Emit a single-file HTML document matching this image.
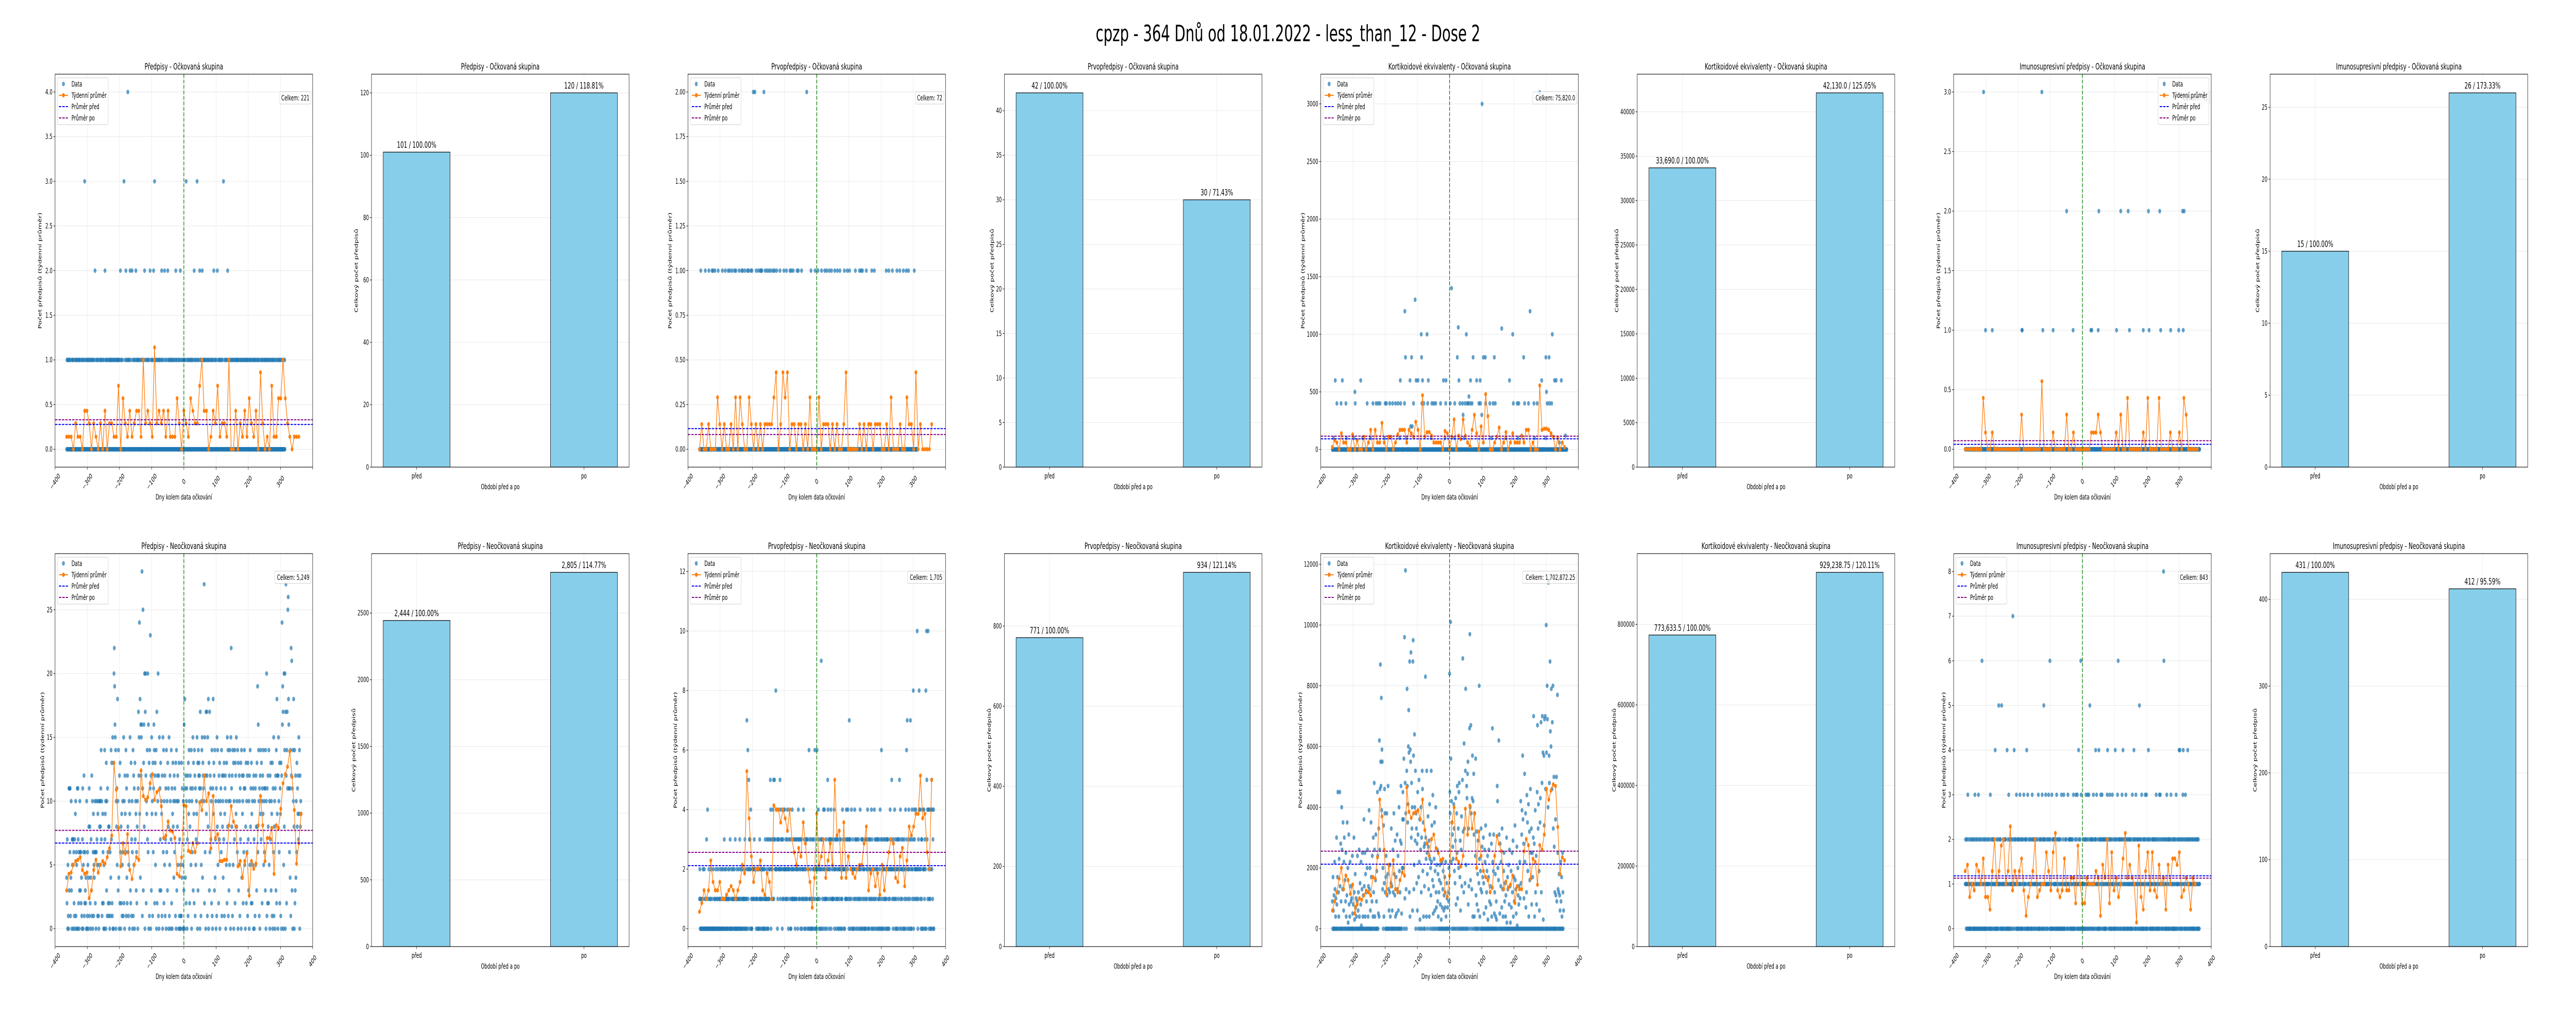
<!DOCTYPE html>
<html><head><meta charset="utf-8">
<style>html,body{margin:0;padding:0;background:#fff;overflow:hidden;width:100%;height:100%}svg{display:block;width:100vw;height:100vh}text{font-family:"DejaVu Sans","Liberation Sans",sans-serif;fill:#000}</style>
</head><body>
<svg id="fig" xmlns="http://www.w3.org/2000/svg" viewBox="0 0 8000 2000" preserveAspectRatio="none">
<rect width="8000" height="2000" fill="#fff"/>
<text x="4000" y="80" font-size="44" text-anchor="middle">cpzp - 364 Dnů od 18.01.2022 - less_than_12 - Dose 2</text>
</svg>
<script>
// ---------- DATA ----------
// bar totals [před, po]
const p2Vals=[101,120];
const p4Vals=[42,30];
const p6Vals=[33690.0,42130.0];
const p8Vals=[15,26];
const b2Vals=[2444,2805];
const b4Vals=[771,934];
const b6Vals=[773633.5,929238.75];
const b8Vals=[431,412];
const barCats=['před','po'];

// weekly averages (first week at day -364, one per 7 days)
const p1Weekly=[.14,.14,.14,0,.29,.14,.14,0,.43,.43,.29,0,.29,.14,0,.29,0,.43,0,.29,.29,.14,.14,.71,0,.57,.29,.14,.43,.14,.29,.43,.43,.14,1,.29,.43,.29,.14,1.14,.29,.43,.29,.43,.14,.43,.14,.14,.14,.57,.29,0,.43,.29,.14,.57,.43,.29,.29,.71,1,.43,.43,0,.14,.43,.29,.71,.14,.29,.29,.14,1,0,0,.43,0,.29,.14,.43,.14,.57,.29,.14,.43,0,.86,.29,0,.14,0,.71,.14,.14,.57,.57,1,.57,.29,.14,0,.14,.14,.14];
const p3Weekly=[0,.14,0,0,.14,0,0,0,.29,.14,0,.14,0,0,.14,0,.29,0,.29,.14,0,0,.29,.14,0,.14,0,.14,0,.14,.14,.14,.14,.29,.43,0,.14,.43,.29,.43,0,.14,.14,0,.14,.14,0,.14,0,.29,0,0,0,.29,0,.14,.14,.14,0,.14,0,.14,0,0,.14,.43,0,0,0,0,0,.14,0,.14,0,.14,.14,0,.14,.14,.14,0,0,.14,0,.29,0,0,0,.14,0,0,.29,.14,.14,0,.43,0,.14,0,0,0,0,.14];
const p5Weekly=[20,80,60,0,140,60,60,0,0,130,0,80,0,0,110,0,60,170,0,170,60,60,230,60,0,110,110,0,60,130,170,170,170,60,170,140,110,240,170,0,470,110,150,150,120,60,60,60,60,0,160,140,0,110,260,0,120,90,260,120,60,30,170,300,140,0,200,60,480,290,0,0,60,110,190,0,60,150,0,60,140,60,60,60,120,60,170,170,0,60,0,0,555,170,180,180,170,140,110,0,100,0,60,20];
const p7Weekly=[0,0,0,0,0,0,0,0,.43,.14,0,0,.14,0,0,0,0,0,0,0,0,0,0,0,0,.29,0,0,0,0,0,0,0,0,.57,0,0,0,0,.14,0,0,0,0,0,.29,0,0,.14,0,0,0,0,0,0,0,.14,.14,.14,.29,.14,0,0,0,0,0,0,.14,0,.29,0,0,.43,0,0,0,0,0,0,.14,0,.43,0,0,0,0,.43,0,0,0,0,.14,0,0,0,.14,0,.43,.29,0,0,0,0,0];
const b1Weekly=[3.0,4.3,4.4,5.0,5.3,5.4,5.6,4.6,4.3,4.4,2.4,3.0,4.6,5.4,4.4,5.0,5.3,5.1,5.6,6.3,7.3,13.0,10.9,7.9,4.9,6.7,5.9,7.4,4.6,3.9,5.0,5.6,5.4,12.4,10.4,10.1,10.3,11.4,12.1,10.1,10.7,10.9,9.6,7.1,7.3,8.4,7.7,7.6,7.1,4.3,4.1,5.6,9.7,9.6,6.1,6.0,6.7,6.0,6.7,9.9,9.3,12.0,10.0,10.6,6.3,10.4,7.1,7.4,5.3,5.3,5.4,5.4,8.1,9.6,8.4,8.0,4.9,5.3,4.0,5.3,5.9,2.6,5.3,4.7,5.1,8.1,10.4,8.1,5.3,7.1,7.1,7.9,4.3,8.1,7.9,9.4,11.4,12.1,12.7,13.9,11.9,9.3,5.1,6.7,9.0];
const b3Weekly=[.57,.86,1.29,1.0,1.29,2.29,1.57,1.29,1.29,1.57,1.0,1.0,1.14,1.29,1.43,1.29,1.0,1.29,1.57,2.14,1.86,5.29,3.71,2.43,1.57,2.0,2.0,2.29,1.29,1.14,1.86,1.57,1.0,4.14,4.0,4.0,3.57,4.0,3.71,3.29,4.0,3.0,2.57,2.14,2.71,2.43,3.57,2.86,2.0,1.57,.71,1.71,3.86,2.14,2.43,3.0,1.71,2.29,2.86,2.14,5.0,3.14,3.29,1.71,3.57,1.71,2.43,2.0,1.86,1.71,2.0,2.14,2.14,2.86,3.43,1.29,1.86,2.0,1.43,1.86,1.14,2.14,1.29,2.0,2.57,3.0,2.86,1.71,1.57,2.43,2.71,1.43,2.29,3.43,3.14,3.43,3.86,3.86,5.14,3.71,3.86,2.57,2.0,5.0];
const b5Weekly=[600,900,1200,1650,2000,1300,1750,1600,1150,1450,500,800,1000,950,1100,1250,1200,1100,1700,1650,2350,4250,3700,2600,1150,2100,1400,2250,1300,1200,1600,1850,1750,4650,3850,3650,3800,3850,3900,3600,4250,3250,2800,2400,2950,3100,2650,2500,2250,2300,1200,1050,1750,3500,4000,2300,2200,2050,2400,3950,3100,4050,3300,3800,2000,3200,2400,1900,1700,1600,1200,1350,2400,3050,2800,2550,1300,1550,1350,1450,1750,850,1400,1300,1300,2550,2950,2750,1650,2300,2200,1450,2750,2600,3100,4600,4250,4550,4750,4700,3350,1800,2350,2250];
const b7Weekly=[1.29,1.43,.71,1.0,.86,1.43,1.29,1.0,1.57,.71,.71,.43,1.29,2.0,1.0,1.29,1.86,2.0,1.0,1.29,2.29,.86,1.29,1.0,1.29,1.57,.86,.29,.71,1.0,1.29,2.0,.71,.86,1.0,1.0,1.71,1.29,.86,1.71,2.14,.86,.71,.86,1.57,.86,.86,1.14,1.14,.57,1.86,1.0,.57,.57,1.14,1.0,1.0,1.0,1.29,1.14,.29,1.43,1.14,2.0,.57,1.71,.86,1.14,.71,1.0,1.57,2.14,1.14,1.43,1.14,1.0,.14,1.86,.71,.43,1.29,1.71,.86,1.71,.86,.71,1.43,1.0,1.14,.43,1.43,1.0,1.57,1.57,1.43,1.71,.71,.86,1.14,1.0,.43,1.14,1.0];

// daily counts, one base-36 character per day starting at day -364
const p1Daily="0101001001010000100101000010010010100010100100001010010030100100010100100"+
"0100101000100102000100100100001001010000100100200101001000100100101001000"+
"1010010001001100100102001001000030010020100140100102001002000101000102010"+
"0100100100001000100101020001001000100100200010100102003001000100100010100"+
"0102010001002001000100200101001000101000100010021001000010010200100010010"+
"0100103000100101000010100100010200100100301001002001010020100100101000100"+
"1001001000100100100201001000102000100101000100100300010010010020100100010"+
"0100100100100100100101001000100100100100100010100101000100100100100010010"+
"1001000100100100001001001000100100101000100100100100010010010010000100100"+
"0100100100010000010010";
const p3Daily="0000100000000000001000000000010000000001001000001000000000100000000000010"+
"0000000100000000100001000000100000001000100000000010000000100100000010000"+
"0001001000000100010002000020001000000100000101001000002000100000100000100"+
"0001000000100010000001000000000100000000000100000001000000000010001000001"+
"0000000000010001000000000100000000000000020000000000001000000000000100000"+
"0001000000000010000000001000001000000010000001000000000100000001000000010"+
"0000000000001000000001000000100000000000000000100000000000010000100010000"+
"0000000100000000000000001000000010000000000000000000000000000000000001000"+
"0000100000000001000000000000010000000010000000000100000000100000010000000"+
"0000000000100000000000";
const b1Daily="4270510b3b6b14a3075770621709a1650b0b72603a63624107b056c1263240a0165048b18"+
"20473c1a0691546a2606a7519a1058aa8be7a12962050e79a0d3a1b6281820614e7d21f00"+
"dkmjgfe0a8b5ia3e40c2d6082915a61f2a0c96e1b42c8615a09f32d17a60e1c5b0d7a9362"+
"8a0bhcfo9i4gcfgs1bp3dg8k0hkc2a9e7k6g0d1ebn0c3f9a1d6bge2cd59e0h2cak1c0f3b7"+
"d3a91c0f6e2a5c17b0e6a3d8b0f15ca07e2b09d8a4c6ba1d0e3a8c5a0d1700511d4b05a03"+
"g0ib4c2ab07c1d9ea28cb5e0a6bf3d92ec1b57a9f0d3ecdbc0hb15aef4dcbar2f6c0h9hc1"+
"f8i0d3h6cb7a2e10bi9dc3e47a0b1f8e5a2c7d0a9b6e1c8a4c7d19bc0a5d2f8e1a3c5ea0f"+
"mb8c1e5d0a7e2dc9f8a6e0d35ca1b7d0e4c9a2c6be5b08d2a6c1d73a0c5e8b2d92a5b0c70"+
"a1b5c83d8j6gea1b0c9e7da2bc9e5a6bb3e0ak1b2c82e5a0c7d3a91d0b6f18a0bc3e2i9c0"+
"cfa6d2b91d0cogjh05k8ek0hrc2ehbpqigb6b4e1mcl3b0eai80e23c4a6d8b9c7f9e0c8a9d";
const b3Daily="1201010000120002010100300401020010102001000200101002010012000101200102001"+
"2010302102101001201120300102011201021030101201002101302100201120110130210"+
"1702612503232401001222113222210122102020131201210221020120311012310031212"+
"3540231214351353228242301324322512432301321424221321234120232413002124112"+
"2311302132132024313122033102122413021023131302206131020311003212306120202"+
"6121430212032903213042142011310225413203213403121131240231230312130201232"+
"3010214232022031214133241307313021422030212041323012320132102412030313202"+
"1200313021243020132312041302210241302312033201310240316032012302131201303"+
"2301202143223521203122410321023023132502413021232020312042163702124031270"+
"3024123801432214221a2013284241203130420242130280a5341a4201412040524130402";
const b7Daily="1210120130210010201021012100203012010210032100120102601012002010120101210"+
"1201030210112021201041100201021510122010510012012102201104012030120120112"+
"1071204112201301200210213012000212103101220124003102011210021031201202110"+
"1201121030012021102130021520210311201021312062010130200212101012031020120"+
"2010210301102031001211201013102122020102120031010211302130104210120630110"+
"1021012020312103021301520120212013102102421301012040210231203120122010201"+
"2013421102031202010312100201402120130621021201021320410201210320120102102"+
"1201020131021420120310211202105120210310201021203102301021421012001102102"+
"0210211023012010201302311020121086201201023102012020121301021020102102031"+
"0121021402410210201342012103020121402012101201021020102101210210201201012";
// daily values in hundreds, starting at day -364
const b5DailyHundreds=[9,0,17,6,0,11,0,22,13,0,4,10,0,30,8,0,17,45,0,12,4,23,0,45,14,0,28,9,0,40,26,0,13,35,0,6,22,30,0,16,0,9,25,4,0,11,35,0,20,2,0,31,8,0,4,22,0,14,9,0,10,0,24,5,0,8,0,30,12,3,0,18,7,
0,10,4,0,9,24,0,6,12,0,26,4,0,15,0,8,22,1,0,13,25,0,4,11,0,36,14,0,25,4,18,0,12,9,0,20,26,0,4,14,0,39,13,0,20,6,0,35,17,0,9,24,0,4,30,12,0,48,26,4,0,16,31,0,9,19,0,45,24,0,5,33,4,
62,26,46,87,55,47,76,39,59,55,13,20,0,34,4,15,46,38,12,0,17,24,0,38,11,0,18,47,0,13,6,0,12,21,4,0,15,33,0,14,6,0,26,12,0,38,18,0,11,29,4,0,17,5,0,31,13,0,24,6,0,40,19,0,12,29,0,47,28,5,0,20,36,
45,20,36,56,0,96,10,48,118,38,13,0,52,79,47,35,41,60,72,58,12,88,4,59,55,91,30,48,33,40,6,88,95,57,13,21,64,40,29,52,0,38,33,15,28,6,45,31,0,17,49,22,36,3,0,26,40,12,30,0,52,46,19,35,4,0,27,14,28,0,83,30,23,
4,52,25,18,0,37,27,13,29,4,41,23,0,20,11,52,22,34,0,16,44,5,14,0,23,35,6,19,0,40,12,7,21,0,26,9,18,4,0,12,16,0,21,8,0,15,3,0,22,7,0,13,19,0,6,11,0,17,7,0,22,4,0,15,10,0,7,0,12,9,20,0,84,
45,38,101,56,22,42,0,35,31,27,23,0,41,33,19,0,15,29,43,8,0,38,25,47,10,0,33,20,45,48,0,17,29,6,0,26,37,14,0,49,89,32,0,12,61,33,0,15,52,79,21,0,47,43,0,51,55,8,33,14,0,66,97,40,16,67,38,0,13,43,57,4,42,
0,51,31,4,38,0,24,56,11,0,32,8,0,18,29,6,0,15,80,23,4,0,19,13,33,0,12,27,0,17,0,30,15,5,0,26,22,0,34,7,0,12,19,0,24,3,0,17,26,0,9,31,0,14,8,0,28,4,0,66,22,0,19,31,0,5,12,0,18,4,0,9,3,
0,47,42,20,0,16,62,31,0,5,28,0,14,22,0,7,33,0,13,4,0,19,25,0,9,15,0,4,11,0,30,2,0,17,13,0,21,0,8,26,0,14,2,0,19,7,0,25,12,0,29,4,0,17,9,0,34,16,0,13,5,0,27,1,0,20,11,0,8,14,0,22,10,
0,42,15,0,31,39,0,57,36,0,28,10,0,51,22,0,38,7,0,12,44,0,35,19,0,41,4,0,32,16,0,46,25,0,33,8,0,25,17,0,30,70,0,28,4,0,39,12,0,24,8,0,45,67,0,33,41,0,19,6,0,35,43,0,68,12,0,48,70,0,58,3,0,
57,34,69,0,70,46,0,100,58,0,80,69,0,40,114,0,57,48,0,88,65,0,60,79,0,46,68,0,80,33,0,50,27,0,12,0,36,11,0,50,9,0,77,25,13,0,12,18,0,11,6,0,22,9,0,17,4,0,25,12,0,6];
// sparse non-zero days (all other days are 0)
const p5Days=[101,280,6,-107,-139,250,27,162,-88,-70,52,196,319,-238,-222,-137,-118,-87,24,73,105,111,139,230,299,309,-355,-333,-276,-196,-153,-123,-104,-98,-84,-66,-19,-11,29,65,84,95,186,286,326,331,347,-294,301,60,42,100,-121,-116,-350,-337,-322,-293,-256,-238,-228,-222,-216,-200,-196,-186,-177,-168,-160,-152,-140,-112,-86,-80,-68,-55,-49,-43,-28,-12,2,16,32,40,48,55,58,64,70,91,96,112,125,135,142,198,210,215,233,245,262,272,303,310,317,-360,-320,-297,-270,-245,-202,-155,-135,-57,-14,15,45,130,175,212,264,298,341,360];
const p5Vals=[3000,3100,1400,1300,1200,1200,1060,1050,1000,1000,1000,1000,1000,800,800,800,800,800,800,800,800,800,800,800,800,800,600,600,600,600,600,600,600,600,600,600,600,600,600,600,600,600,600,600,600,600,600,500,500,460,300,300,200,200,400,400,400,400,400,400,400,400,400,400,400,400,400,400,400,400,400,400,400,400,400,400,400,400,400,400,400,400,400,400,400,400,400,400,400,400,400,400,400,400,400,400,400,400,400,400,400,400,400,400,400,100,100,100,100,100,100,100,100,100,100,100,100,100,100,100,100,100,60,120];
const p7Days=[-307,-126,-49,51,119,142,205,240,311,316,-301,-280,-188,-187,-123,-91,-29,26,29,49,106,146,189,207,243,274,299,313];
const p7Vals=[3,3,2,2,2,2,2,2,2,2,1,1,1,1,1,1,1,1,1,1,1,1,1,1,1,1,1,1];

// ---------- RENDER ----------
const NS='http://www.w3.org/2000/svg';
const svg=document.getElementById('fig');
const COL0=171, STEP=982.7, AXW=800, ROWS=[[144,907],[1075,1838]];
const FIRST_DAY=-364, NDAYS=729;
function el(tag,attrs,parent){const e=document.createElementNS(NS,tag);for(const k in attrs)e.setAttribute(k,attrs[k]);(parent||svg).appendChild(e);return e;}
function txt(parent,x,y,s,size,anchor){const t=el('text',{x:x,y:y,'font-size':size,'text-anchor':anchor||'middle','dominant-baseline':'central'},parent);t.textContent=s;return t;}
function dec36(s){return s.replace(/\s/g,'').split('').map(c=>parseInt(c,36));}
function sparse(days,vals){const a=new Array(NDAYS).fill(0);days.forEach((d,i)=>{a[d-FIRST_DAY]=vals[i];});return a;}
function commas(s){const p=String(s).split('.');return p[0].replace(/\B(?=(\d{3})+(?!\d))/g,',')+(p.length>1?'.'+p[1]:'');}
function fmtVal(v,isFloat){return isFloat&&Number.isInteger(v)?commas(v.toFixed(1)):commas(v);}
function fmtTick(v,dec){return (v<0?'\u2212':'')+Math.abs(v).toFixed(dec);}
function estW(s,size){return s.length*size*0.6;}
function dashLine(g,x1,y1,x2,y2,color,name){const l=el('line',{x1:x1,y1:y1,x2:x2,y2:y2,stroke:color,'stroke-width':2,'stroke-dasharray':'7.4 3.2'},g);

return l;}

function scatterPanel(o){
  const L=COL0+o.col*STEP,R=L+AXW,T=ROWS[o.row][0],B=ROWS[o.row][1];
  const sx=d=>L+(d+400)/800*AXW, sy=v=>B-(v-o.yMin)/(o.yMax-o.yMin)*(B-T);
  const g=el('g',{});
  
  
  const yt=[];for(let v=0;v<=o.yMax+1e-9;v+=o.yStep)yt.push(+v.toFixed(6));
  const xt=[];for(let d=-400;d<=400;d+=100)xt.push(d);
  xt.forEach(d=>{const ln=el('line',{x1:sx(d),x2:sx(d),y1:T,y2:B,stroke:'#b0b0b0','stroke-opacity':0.3,'stroke-width':1},g);
    
    });
  yt.forEach(v=>{const ln=el('line',{x1:L,x2:R,y1:sy(v),y2:sy(v),stroke:'#b0b0b0','stroke-opacity':0.3,'stroke-width':1},g);
    
    });
  o.daily.forEach((v,i)=>{if(i>=NDAYS)return;const c=el('circle',{cx:sx(FIRST_DAY+i),cy:sy(v),r:4.5,fill:'#1f77b4','fill-opacity':0.7},g);
    
    });
  const pts=o.weekly.map((v,i)=>sx(FIRST_DAY+7*i)+','+sy(v)).join(' ');
  const pl=el('polyline',{points:pts,fill:'none',stroke:'#ff7f0e','stroke-width':2},g);
  
  
  o.weekly.forEach((v,i)=>{const c=el('circle',{cx:sx(FIRST_DAY+7*i),cy:sy(v),r:4.2,fill:'#ff7f0e'},g);
    
    });
  dashLine(g,L,sy(o.pre),R,sy(o.pre),'#0000ff','mean-before-line');
  dashLine(g,L,sy(o.post),R,sy(o.post),'#800080','mean-after-line');
  dashLine(g,sx(0),T,sx(0),B,'#008000','vaccination-day-line');
  const fr=el('rect',{x:L,y:T,width:AXW,height:B-T,fill:'none',stroke:'#000','stroke-width':1.1},g);
  
  
  xt.forEach(d=>{const tk=el('line',{x1:sx(d),x2:sx(d),y1:B,y2:B+5,stroke:'#000','stroke-width':1},g);
    
    
    if(d===400&&!o.show400)return;
    const t=txt(g,sx(d),B+28,fmtTick(d,0),13.9);
    t.setAttribute('transform','rotate(-45 '+sx(d)+' '+(B+28)+')');
    
    });
  let tw=0;
  yt.forEach(v=>{const tk=el('line',{x1:L-5,x2:L,y1:sy(v),y2:sy(v),stroke:'#000','stroke-width':1},g);
    
    
    const s=fmtTick(v,o.yDec);
    const t=txt(g,L-8,sy(v),s,13.9,'end');
    
    
    tw=Math.max(tw,estW(s,13.9));});
  const ti=txt(g,L+AXW/2,T-14,o.title,17);
  
  
  const xl=txt(g,L+AXW/2,B+58,'Dny kolem data očkování',13.9);
  
  
  const yx=L-tw-22, ymid=(T+B)/2;
  const yl=txt(g,yx,ymid,'Počet předpisů (týdenní průměr)',13.9);
  yl.setAttribute('transform','rotate(-90 '+yx+' '+ymid+')');
  
  
  // total box
  const total=o.bars[0]+o.bars[1];
  const cs='Celkem: '+fmtVal(total,o.isFloat);
  const cw=estW(cs,13.9)*0.95;
  const cb=el('rect',{x:R-15-cw,y:T+34,width:cw+10,height:24,rx:3,fill:'#fff','fill-opacity':0.8,stroke:'#cccccc'},g);
  
  
  const ct=txt(g,R-10,T+46,cs,13.9,'end');
  
  
  // legend
  const lx=o.legendRight?R-7-158:L+7, ly=T+7;
  const lg=el('g',{},g);
  
  
  const lb=el('rect',{x:lx,y:ly,width:158,height:91,rx:3,fill:'#fff','fill-opacity':0.8,stroke:'#cccccc'},lg);
  
  
  const h1=el('circle',{cx:lx+19,cy:ly+12,r:4.5,fill:'#1f77b4','fill-opacity':0.7},lg);
  
  
  const h2=el('line',{x1:lx+5,x2:lx+33,y1:ly+34,y2:ly+34,stroke:'#ff7f0e','stroke-width':2},lg);
  
  
  const h2c=el('circle',{cx:lx+19,cy:ly+34,r:4.2,fill:'#ff7f0e'},lg);
  
  
  dashLine(lg,lx+5,ly+56,lx+33,ly+56,'#0000ff','legend-before-line');
  dashLine(lg,lx+5,ly+78,lx+33,ly+78,'#800080','legend-after-line');
  [['Data',12],['Týdenní průměr',34],['Průměr před',56],['Průměr po',78]].forEach(e=>{const t=txt(lg,lx+44,ly+e[1],e[0],13.9,'start');
    
    });
}

function barPanel(o){
  const L=COL0+o.col*STEP,R=L+AXW,T=ROWS[o.row][0],B=ROWS[o.row][1];
  const yMax=Math.max(...o.vals)*1.05;
  const sx=x=>L+(x+0.27)/1.54*AXW, sy=v=>B-v/yMax*(B-T);
  const g=el('g',{});
  
  
  const yt=[];for(let v=0;v<=yMax+1e-9;v+=o.yStep)yt.push(v);
  yt.forEach(v=>{const ln=el('line',{x1:L,x2:R,y1:sy(v),y2:sy(v),stroke:'#b0b0b0','stroke-opacity':0.3,'stroke-width':1},g);
    
    });
  barCats.forEach((c,i)=>{const ln=el('line',{x1:sx(i),x2:sx(i),y1:T,y2:B,stroke:'#b0b0b0','stroke-opacity':0.3,'stroke-width':1},g);
    
    });
  o.vals.forEach((v,i)=>{
    const r=el('rect',{x:sx(i-0.2),y:sy(v),width:sx(0.2)-sx(-0.2),height:B-sy(v),fill:'#87ceeb',stroke:'#000','stroke-width':1.2},g);
    
    
    const pct=(v/o.vals[0]*100).toFixed(2)+'%';
    const t=txt(g,sx(i),sy(v)-13,fmtVal(v,o.isFloat)+' / '+pct,16.7);
    
    });
  const fr=el('rect',{x:L,y:T,width:AXW,height:B-T,fill:'none',stroke:'#000','stroke-width':1.1},g);
  
  
  barCats.forEach((c,i)=>{const tk=el('line',{x1:sx(i),x2:sx(i),y1:B,y2:B+5,stroke:'#000','stroke-width':1},g);
    
    
    const t=txt(g,sx(i),B+17,c,13.9);
    
    });
  let tw=0;
  yt.forEach(v=>{const tk=el('line',{x1:L-5,x2:L,y1:sy(v),y2:sy(v),stroke:'#000','stroke-width':1},g);
    
    
    const t=txt(g,L-8,sy(v),String(v),13.9,'end');
    
    
    tw=Math.max(tw,estW(String(v),13.9));});
  const ti=txt(g,L+AXW/2,T-14,o.title,17);
  
  
  const xl=txt(g,L+AXW/2,B+38,'Období před a po',13.9);
  
  
  const yx=L-tw-22, ymid=(T+B)/2;
  const yl=txt(g,yx,ymid,'Celkový počet předpisů',13.9);
  yl.setAttribute('transform','rotate(-90 '+yx+' '+ymid+')');
  
  
}

const OCK=' - Očkovaná skupina', NEO=' - Neočkovaná skupina';
scatterPanel({name:'predpisy-ockovana-scatter',col:0,row:0,title:'Předpisy'+OCK,yMin:-0.2,yMax:4.2,yStep:0.5,yDec:1,daily:dec36(p1Daily),weekly:p1Weekly,pre:p2Vals[0]/364,post:p2Vals[1]/364,bars:p2Vals,isFloat:false,show400:false});
barPanel({name:'predpisy-ockovana-bars',col:1,row:0,title:'Předpisy'+OCK,vals:p2Vals,yStep:20,isFloat:false});
scatterPanel({name:'prvopredpisy-ockovana-scatter',col:2,row:0,title:'Prvopředpisy'+OCK,yMin:-0.1,yMax:2.1,yStep:0.25,yDec:2,daily:dec36(p3Daily),weekly:p3Weekly,pre:p4Vals[0]/364,post:p4Vals[1]/364,bars:p4Vals,isFloat:false,show400:false});
barPanel({name:'prvopredpisy-ockovana-bars',col:3,row:0,title:'Prvopředpisy'+OCK,vals:p4Vals,yStep:5,isFloat:false});
scatterPanel({name:'kortikoidy-ockovana-scatter',col:4,row:0,title:'Kortikoidové ekvivalenty'+OCK,yMin:-153,yMax:3258,yStep:500,yDec:0,daily:sparse(p5Days,p5Vals),weekly:p5Weekly,pre:p6Vals[0]/364,post:p6Vals[1]/364,bars:p6Vals,isFloat:true,show400:false});
barPanel({name:'kortikoidy-ockovana-bars',col:5,row:0,title:'Kortikoidové ekvivalenty'+OCK,vals:p6Vals,yStep:5000,isFloat:true});
scatterPanel({name:'imunosupresivni-ockovana-scatter',col:6,row:0,title:'Imunosupresivní předpisy'+OCK,yMin:-0.15,yMax:3.15,yStep:0.5,yDec:1,daily:sparse(p7Days,p7Vals),weekly:p7Weekly,pre:p8Vals[0]/364,post:p8Vals[1]/364,bars:p8Vals,isFloat:false,show400:false,legendRight:true});
barPanel({name:'imunosupresivni-ockovana-bars',col:7,row:0,title:'Imunosupresivní předpisy'+OCK,vals:p8Vals,yStep:5,isFloat:false});

scatterPanel({name:'predpisy-neockovana-scatter',col:0,row:1,title:'Předpisy'+NEO,yMin:-1.4,yMax:29.4,yStep:5,yDec:0,daily:dec36(b1Daily),weekly:b1Weekly,pre:b2Vals[0]/364,post:b2Vals[1]/364,bars:b2Vals,isFloat:false,show400:true});
barPanel({name:'predpisy-neockovana-bars',col:1,row:1,title:'Předpisy'+NEO,vals:b2Vals,yStep:500,isFloat:false});
scatterPanel({name:'prvopredpisy-neockovana-scatter',col:2,row:1,title:'Prvopředpisy'+NEO,yMin:-0.6,yMax:12.6,yStep:2,yDec:0,daily:dec36(b3Daily),weekly:b3Weekly,pre:b4Vals[0]/364,post:b4Vals[1]/364,bars:b4Vals,isFloat:false,show400:true});
barPanel({name:'prvopredpisy-neockovana-bars',col:3,row:1,title:'Prvopředpisy'+NEO,vals:b4Vals,yStep:200,isFloat:false});
scatterPanel({name:'kortikoidy-neockovana-scatter',col:4,row:1,title:'Kortikoidové ekvivalenty'+NEO,yMin:-588,yMax:12352,yStep:2000,yDec:0,daily:b5DailyHundreds.map(v=>v*100),weekly:b5Weekly,pre:b6Vals[0]/364,post:b6Vals[1]/364,bars:b6Vals,isFloat:true,show400:true});
barPanel({name:'kortikoidy-neockovana-bars',col:5,row:1,title:'Kortikoidové ekvivalenty'+NEO,vals:b6Vals,yStep:200000,isFloat:true});
scatterPanel({name:'imunosupresivni-neockovana-scatter',col:6,row:1,title:'Imunosupresivní předpisy'+NEO,yMin:-0.4,yMax:8.4,yStep:1,yDec:0,daily:dec36(b7Daily),weekly:b7Weekly,pre:b8Vals[0]/364,post:b8Vals[1]/364,bars:b8Vals,isFloat:false,show400:true});
barPanel({name:'imunosupresivni-neockovana-bars',col:7,row:1,title:'Imunosupresivní předpisy'+NEO,vals:b8Vals,yStep:100,isFloat:false});
</script>
</body></html>
